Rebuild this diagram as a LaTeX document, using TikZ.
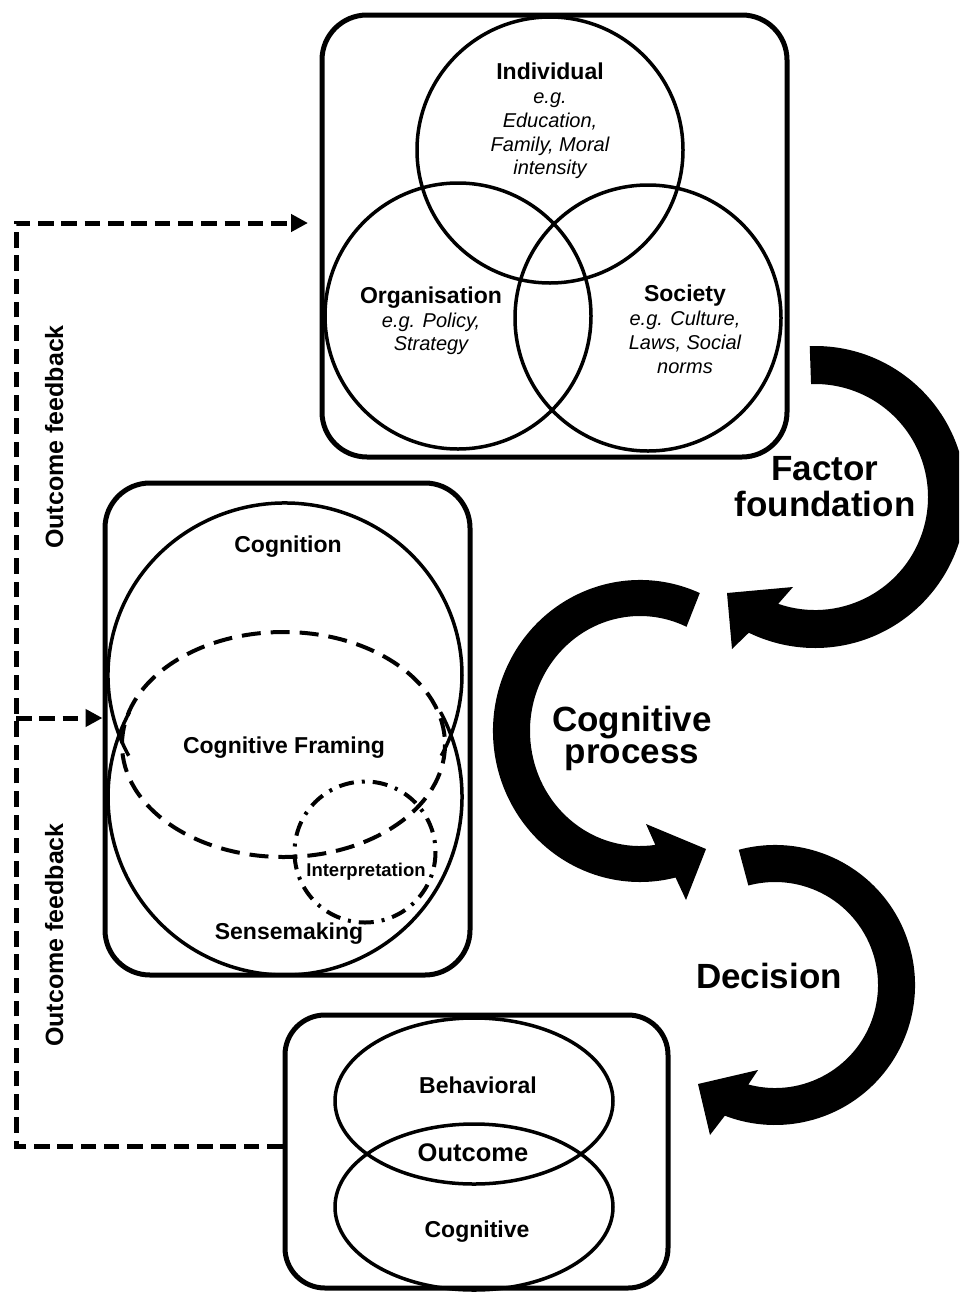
\documentclass[tikz,border=0pt]{standalone}
\usepackage{fontspec}
\setmainfont{Liberation Sans}
\usetikzlibrary{arrows.meta}
\begin{document}
\begin{tikzpicture}[x=1pt,y=-1pt,
  box/.style={draw, line width=5pt, rounded corners=45pt, inner sep=0pt},
  venn/.style={line width=3.5pt},
  lab/.style={font=\bfseries\fontsize{23}{23}\selectfont, inner sep=0pt, anchor=base},
  eg/.style={font=\itshape\fontsize{20}{20}\selectfont, inner sep=0pt, anchor=base},
  big/.style={font=\bfseries\fontsize{35}{35}\selectfont, inner sep=0pt, anchor=base},
  fbl/.style={font=\bfseries\fontsize{25}{25}\selectfont, inner sep=0pt, anchor=base, rotate=90},
  fb/.style={line width=5pt, dash pattern=on 15.5pt off 7.8pt},
  fbtip/.style={-{Triangle[length=17pt,width=17pt]}},
  bigarrow/.style={fill=black}]
\useasboundingbox (0,0) rectangle (959,1293);
\clip (0,0) rectangle (959,1293);

% ---------- boxes ----------
\node[box, minimum width=465pt, minimum height=442pt] (topbox) at (554.5,236) {};
\node[box, minimum width=365pt, minimum height=492pt] (midbox) at (287.5,729) {};
\node[box, rounded corners=40pt, minimum width=383pt, minimum height=273pt] (botbox) at (476.5,1151.5) {};

% ---------- top Venn ----------
\draw[venn] (550,150) circle[radius=133];
\draw[venn] (458,316) circle[radius=133];
\draw[venn] (648,318) circle[radius=133];

\node[lab] (ind) at (550,79) {Individual};
\node[eg] (ind1) at (550,103) {e.g.};
\node[eg] (ind2) at (550,127) {Education,};
\node[eg] (ind3) at (550,151) {Family, Moral};
\node[eg] (ind4) at (550,174) {intensity};
\node[lab] (org) at (431,303) {Organisation};
\node[eg] (org1) at (431,327) {e.g. Policy,};
\node[eg] (org2) at (431,350) {Strategy};
\node[lab] (soc) at (685,301) {Society};
\node[eg] (soc1) at (685,325) {e.g. Culture,};
\node[eg] (soc2) at (685,349) {Laws, Social};
\node[eg] (soc3) at (685,373) {norms};

% ---------- middle ----------
\coordinate (UC) at (285,675);
\coordinate (LC) at (285,797);
\draw[venn] ([shift={(152:177 and 172)}]UC) arc[start angle=152, end angle=388, x radius=177, y radius=172];
\draw[venn] ([shift={(-28.5:177 and 178)}]LC) arc[start angle=-28.5, end angle=208.5, x radius=177, y radius=178];
\draw[line width=4pt, dash pattern=on 19pt off 10pt] (283.5,744.5) ellipse[x radius=161.5, y radius=112.5];
\draw[line width=4pt, dash pattern=on 15pt off 8pt on 3pt off 8pt] (365,852) circle[radius=70.5];

\node[lab] (cogn) at (288,552) {Cognition};
\node[lab] (cfram) at (284,753) {Cognitive Framing};
\node[lab, font=\bfseries\fontsize{18.5}{18.5}\selectfont] (interp) at (366,876) {Interpretation};
\node[lab] (sense) at (289,939) {Sensemaking};

% ---------- bottom ----------
\draw[venn] (474,1101) ellipse[x radius=139, y radius=83];
\draw[venn] (474,1207) ellipse[x radius=139, y radius=83];
\node[lab] (behav) at (478,1093) {Behavioral};
\node[lab, font=\bfseries\fontsize{25.5}{25.5}\selectfont] (outc) at (473,1161) {Outcome};
\node[lab] (cogv) at (477,1237) {Cognitive};

% ---------- feedback connectors ----------
\coordinate (fbbot) at (16,1146);
\coordinate (fbtop) at (16,223);
\coordinate (fbmid) at (16,718);
\draw[fb, fbtip, shorten >=11.5pt] ([yshift=5.5pt]botbox.west) -- (fbbot) -- (fbtop) -- (fbtop -| topbox.west);
\draw[fb, fbtip] (fbmid) -- (fbmid -| midbox.west);
\node[fbl] (fblab1) at (63,437) {Outcome feedback};
\node[fbl] (fblab2) at (63,935) {Outcome feedback};

% ---------- big curved arrows ----------
\coordinate (FC) at (815,497);
\fill[bigarrow] ([shift={(-92:151)}]FC) arc[start angle=-92, end angle=116, radius=151]
  -- (732,649) -- (727,593) -- (793,587)
  -- ([shift={(109:113)}]FC) arc[start angle=109, end angle=-92, radius=113] -- cycle;

\coordinate (CC) at (640,731);
\fill[bigarrow] ([shift={(-66:147 and 151)}]CC) arc[start angle=-66, end angle=-284, x radius=147, y radius=151]
  -- (686,900) -- (706,849) -- (646,824)
  -- ([shift={(-278:110 and 115)}]CC) arc[start angle=-278, end angle=-65, x radius=110, y radius=115] -- cycle;

\coordinate (DC) at (775,985);
\fill[bigarrow] ([shift={(-105:140)}]DC) arc[start angle=-105, end angle=111, radius=140]
  -- (710,1135) -- (698,1084) -- (758,1070)
  -- ([shift={(105:103)}]DC) arc[start angle=105, end angle=-105, radius=103] -- cycle;

\node[big] (ff1) at (825,480) {Factor};
\node[big] (ff2) at (825,516) {foundation};
\node[big] (cp1) at (632,731) {Cognitive};
\node[big] (cp2) at (632,763) {process};
\node[big] (dec) at (769,988) {Decision};
\end{tikzpicture}
\end{document}
